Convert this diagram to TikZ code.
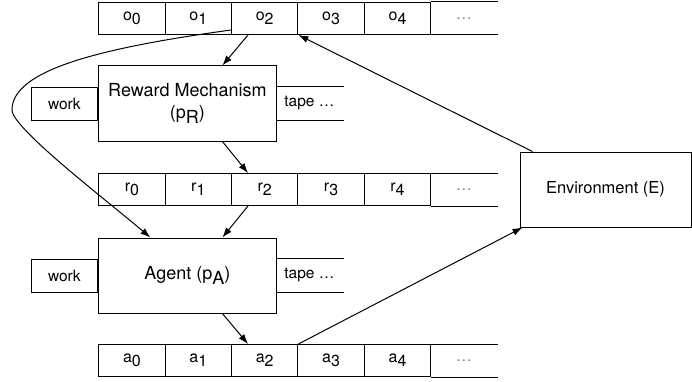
\documentclass[tikz,border=0pt]{standalone}
\usepackage{fontspec}
\setmainfont{TeX Gyre Heros}
\usetikzlibrary{arrows.meta,positioning}

% letter with a lowered index, as on the tapes
\newcommand{\sub}[2]{#1\raisebox{-0.5ex}{#2}}

\tikzset{
    cell/.style = {draw, minimum width=66.4pt, minimum height=32pt, inner sep=0pt, font=\fontsize{16}{18}\selectfont},
    machine/.style = {draw, minimum width=177.3pt, minimum height=75pt, align=center, font=\fontsize{18}{22}\selectfont},
    worktape/.style = {draw, minimum width=66.7pt, minimum height=33pt, inner sep=0pt, font=\fontsize{15.5}{17}\selectfont},
    tapelabel/.style = {font=\fontsize{15.5}{17}\selectfont},
    flow/.style = {-{Latex[length=10pt,width=7pt]}},
}

\begin{document}
\begin{tikzpicture}[x=1pt, y=1pt, line width=1pt]
\useasboundingbox (0,0) rectangle (692,381);

% the two machines and the environment
\node[machine] (rew) at (187.4,277.5) {Reward Mechanism\\(\sub{p}{R})};
\node[machine] (agent) at (187.4,105.5) {Agent (\sub{p}{A})};
\node[machine, minimum width=171pt, font=\fontsize{16.5}{18}\selectfont] (env) at (605.5,191.5) {Environment (E)};

% work tapes on both sides
\node[worktape, left=0pt of rew] (rewwork) {work};
\node[tapelabel, right=4pt of rew] (rewtape) {tape \dots};
\draw (rewwork.north -| rew.east) -- ++(67,0) (rewwork.south -| rew.east) -- ++(67,0);
\node[worktape, left=0pt of agent] (agentwork) {work};
\node[tapelabel, right=4pt of agent] (agenttape) {tape \dots};
\draw (agentwork.north -| agent.east) -- ++(67,0) (agentwork.south -| agent.east) -- ++(67,0);

% observation, reward and action tapes
\foreach \row/\y in {o/362.5, r/191.5, a/20.5}{
    \foreach \i in {0,...,4}
        \node[cell] (\row\i) at ({131.9+66.4*\i},\y) {\sub{\row}{\i}};
    \node[cell, draw=none, text=gray] (\row5) at (463.9,\y) {\dots};
    \draw (\row4.north east) -- (\row5.north east) (\row4.south east) -- (\row5.south east);
}

% connections
\draw[flow] ([xshift=17pt]o2.south west) -- ([xshift=35pt]rew.north);
\draw[flow] ([xshift=13pt]env.north west) -- (o2.south east);
\draw[flow] ([xshift=35pt]rew.south) -- ([xshift=17pt]r2.north west);
\draw[flow] ([xshift=17pt]r2.south west) -- ([xshift=35pt]agent.north);
\draw[flow] ([xshift=35pt]agent.south) -- ([xshift=17pt]a2.north west);
\draw[flow] (a2.north east) -- ([xshift=3pt]env.south west);
\coordinate (bend) at (12,271);
\draw[flow] ([yshift=5pt]o2.south west) .. controls (100,333) and (12,311) .. (bend)
    .. controls (12,253) and (105,182) .. ([xshift=-37pt]agent.north);
\end{tikzpicture}
\end{document}
